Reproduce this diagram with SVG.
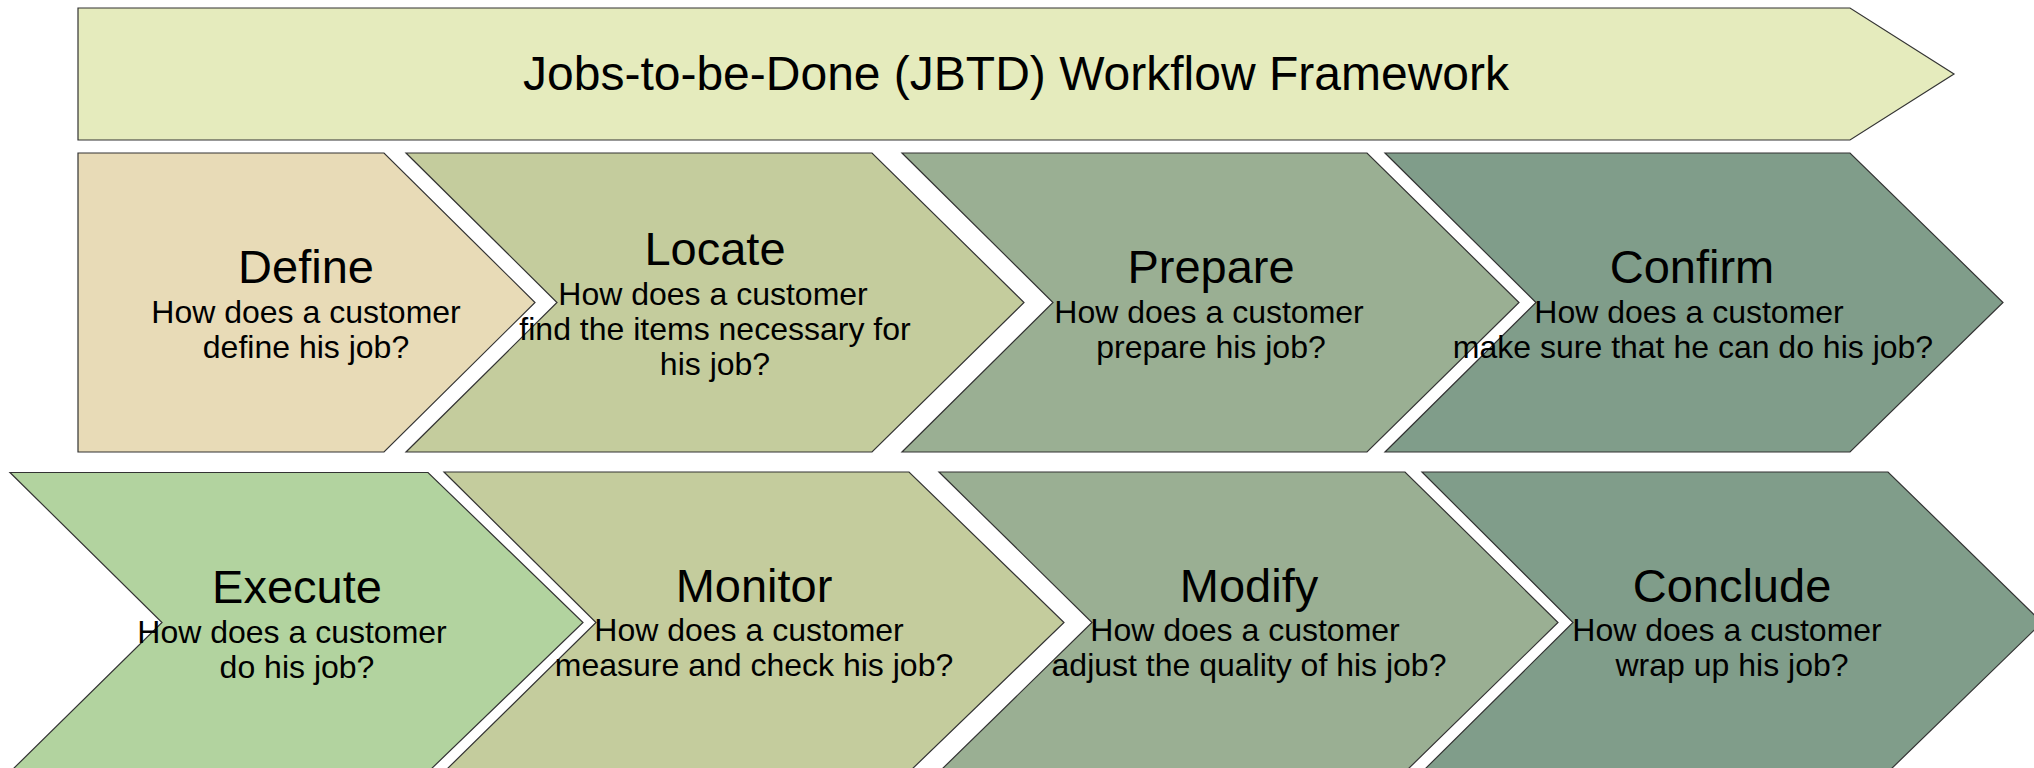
<svg xmlns="http://www.w3.org/2000/svg" width="2034" height="768" viewBox="0 0 2034 768">
<style>
.s{stroke:#333;stroke-width:1.2;stroke-linejoin:miter}
.t{font-family:"Liberation Sans",Arial,sans-serif;fill:#000;text-anchor:middle}
.h{font-size:47px}
.d{font-size:32px}
.ban{fill:#E5EBBD}
.c1{fill:#E8DBB7}
.c2{fill:#C4CC9D}
.c3{fill:#9AAF93}
.c4{fill:#809D8A}
.c5{fill:#B2D39F}
</style>
<rect width="2034" height="768" fill="#fff"/>
<g id="banner">
<polygon class="s ban" points="78,8 1850,8 1954,74 1850,140 78,140"/>
<text class="t" x="1016" y="90" font-size="48">Jobs-to-be-Done (JBTD) Workflow Framework</text>
</g>
<g id="define">
<polygon class="s c1" points="78,153 384,153 535,302.5 384,452 78,452"/>
<text class="t h" x="306" y="283">Define</text>
<text class="t d" x="306" y="323">How does a customer</text>
<text class="t d" x="306" y="358">define his job?</text>
</g>
<g id="locate">
<polygon class="s c2" points="406,153 872,153 1024,302.5 872,452 406,452 557,302.5"/>
<text class="t h" x="715" y="265">Locate</text>
<text class="t d" x="713" y="305">How does a customer</text>
<text class="t d" x="715" y="340">find the items necessary for</text>
<text class="t d" x="715" y="375">his job?</text>
</g>
<g id="prepare">
<polygon class="s c3" points="902,153 1367,153 1519,302.5 1367,452 902,452 1053,302.5"/>
<text class="t h" x="1211" y="283">Prepare</text>
<text class="t d" x="1209" y="323">How does a customer</text>
<text class="t d" x="1211" y="358">prepare his job?</text>
</g>
<g id="confirm">
<polygon class="s c4" points="1385,153 1850,153 2003,302.5 1850,452 1385,452 1536,302.5"/>
<text class="t h" x="1692" y="283">Confirm</text>
<text class="t d" x="1689" y="323">How does a customer</text>
<text class="t d" x="1693" y="358">make sure that he can do his job?</text>
</g>
<g id="execute">
<polygon class="s c5" points="10,472.5 428,472.5 583,622.5 428,772 10,772 162,622.5"/>
<text class="t h" x="297" y="603">Execute</text>
<text class="t d" x="292" y="643">How does a customer</text>
<text class="t d" x="297" y="678">do his job?</text>
</g>
<g id="monitor">
<polygon class="s c2" points="444,472 909,472 1064,622.5 909,772 444,772 596,622.5"/>
<text class="t h" x="754" y="602">Monitor</text>
<text class="t d" x="749" y="641">How does a customer</text>
<text class="t d" x="754" y="676">measure and check his job?</text>
</g>
<g id="modify">
<polygon class="s c3" points="939,472 1405,472 1558,622.5 1405,772 939,772 1092,622.5"/>
<text class="t h" x="1249" y="602">Modify</text>
<text class="t d" x="1245" y="641">How does a customer</text>
<text class="t d" x="1249" y="676">adjust the quality of his job?</text>
</g>
<g id="conclude">
<polygon class="s c4" points="1422,472 1888,472 2042,622.5 1888,772 1422,772 1573,622.5"/>
<text class="t h" x="1732" y="602">Conclude</text>
<text class="t d" x="1727" y="641">How does a customer</text>
<text class="t d" x="1732" y="676">wrap up his job?</text>
</g>
<g id="connectors"></g>
</svg>
